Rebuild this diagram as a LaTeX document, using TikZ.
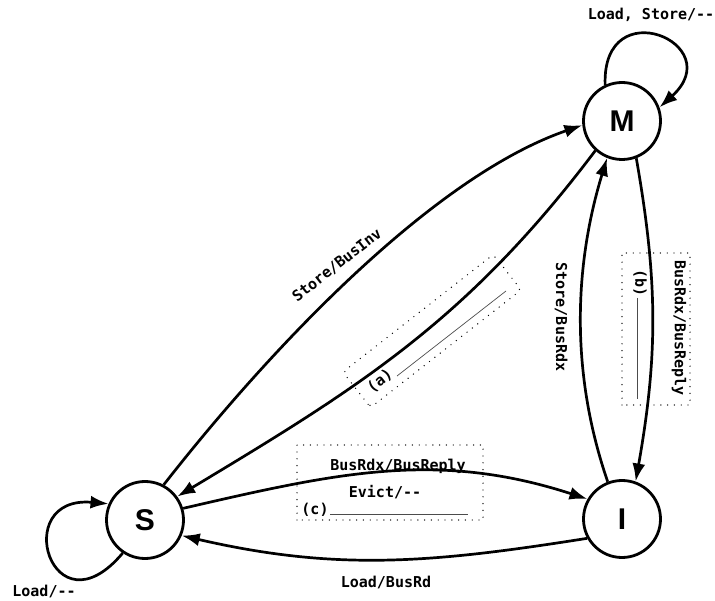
\documentclass[tikz,border=0pt]{standalone}
\usepackage{fontspec}
\setmonofont{DejaVu Sans Mono}
\setsansfont{Liberation Sans}
\usetikzlibrary{arrows.meta}
\begin{document}
\begin{tikzpicture}[x=1pt,y=1pt,
  state/.style={circle, draw, line width=2.8pt, minimum size=77pt, inner sep=0pt,
    font=\sffamily\bfseries\fontsize{30}{30}\selectfont},
  edge/.style={line width=2.7pt, -{Latex[length=18pt,width=13pt]}},
  lbl/.style={font=\ttfamily\bfseries\fontsize{15}{15}\selectfont, inner sep=0pt},
  dotbox/.style={line width=1.4pt, dash pattern=on 0pt off 6.8pt, line cap=round},
  blank/.style={line width=0.7pt, draw=black!70}]
\useasboundingbox (0,0) rectangle (715,600);

\node[state] (M) at (622,479) {M};
\node[state] (S) at (145,80) {S};
\node[state] (I) at (622,81) {I};

% edges
\draw[edge] (S.62) to[out=52,in=199,looseness=0.75] (M.186);
\draw[edge] (M.228) to[out=233,in=31] (S.36);
\draw[edge] (M.291) to[out=-80,in=80] (I.70);
\draw[edge] (I.111) to[out=109,in=253,looseness=0.9] (M.248);
\draw[edge] (S.17) to[out=13,in=162] (I.150);
\draw[edge] (I.209) to[out=189,in=-13] (S.-23);
\draw[edge] (M.115) .. controls +(92:95) and +(42:95) .. (M.20);
\draw[edge] (S.236) .. controls +(230:110) and +(175:100) .. (S.156);

% labels
\node[lbl] (lM) at (651,585) {Load, Store/--};
\node[lbl] (lS) at (44,9) {Load/--};
\node[lbl, rotate=38] (lSM) at (337,335) {Store/BusInv};
\node[lbl, rotate=-90] (lIM) at (561,283) {Store/BusRdx};
\node[lbl, rotate=-90] (lMI) at (679,272) {BusRdx/BusReply};
\node[lbl] (lSI) at (398,134) {BusRdx/BusReply};
\node[lbl] (lEv) at (385,108) {Evict/--};
\node[lbl] (lIS) at (386,18) {Load/BusRd};

% (a) box
\begin{scope}[shift={(432,269)}, rotate=38]
  \draw[dotbox, rounded corners=4pt] (-95.5,-22.5) rectangle (95.5,22.5);
\end{scope}
\node[lbl, rotate=38] (ta) at (380,219) {(a)};
\coordinate (a1) at (397,224);
\coordinate (a2) at (506,309);
\draw[blank] (a1) -- (a2);

% (b) box
\draw[dotbox] (622,195) rectangle (690,347);
\node[lbl, rotate=-90] (tb) at (640,317) {(b)};
\coordinate (b1) at (637,302);
\coordinate (b2) at (637,201);
\draw[blank] (b1) -- (b2);

% (c) box
\draw[dotbox] (297,80) rectangle (483,155);
\node[lbl] (tc) at (315,90) {(c)};
\coordinate (c1) at (330,86);
\coordinate (c2) at (468,86);
\draw[blank] (c1) -- (c2);
\end{tikzpicture}
\end{document}
